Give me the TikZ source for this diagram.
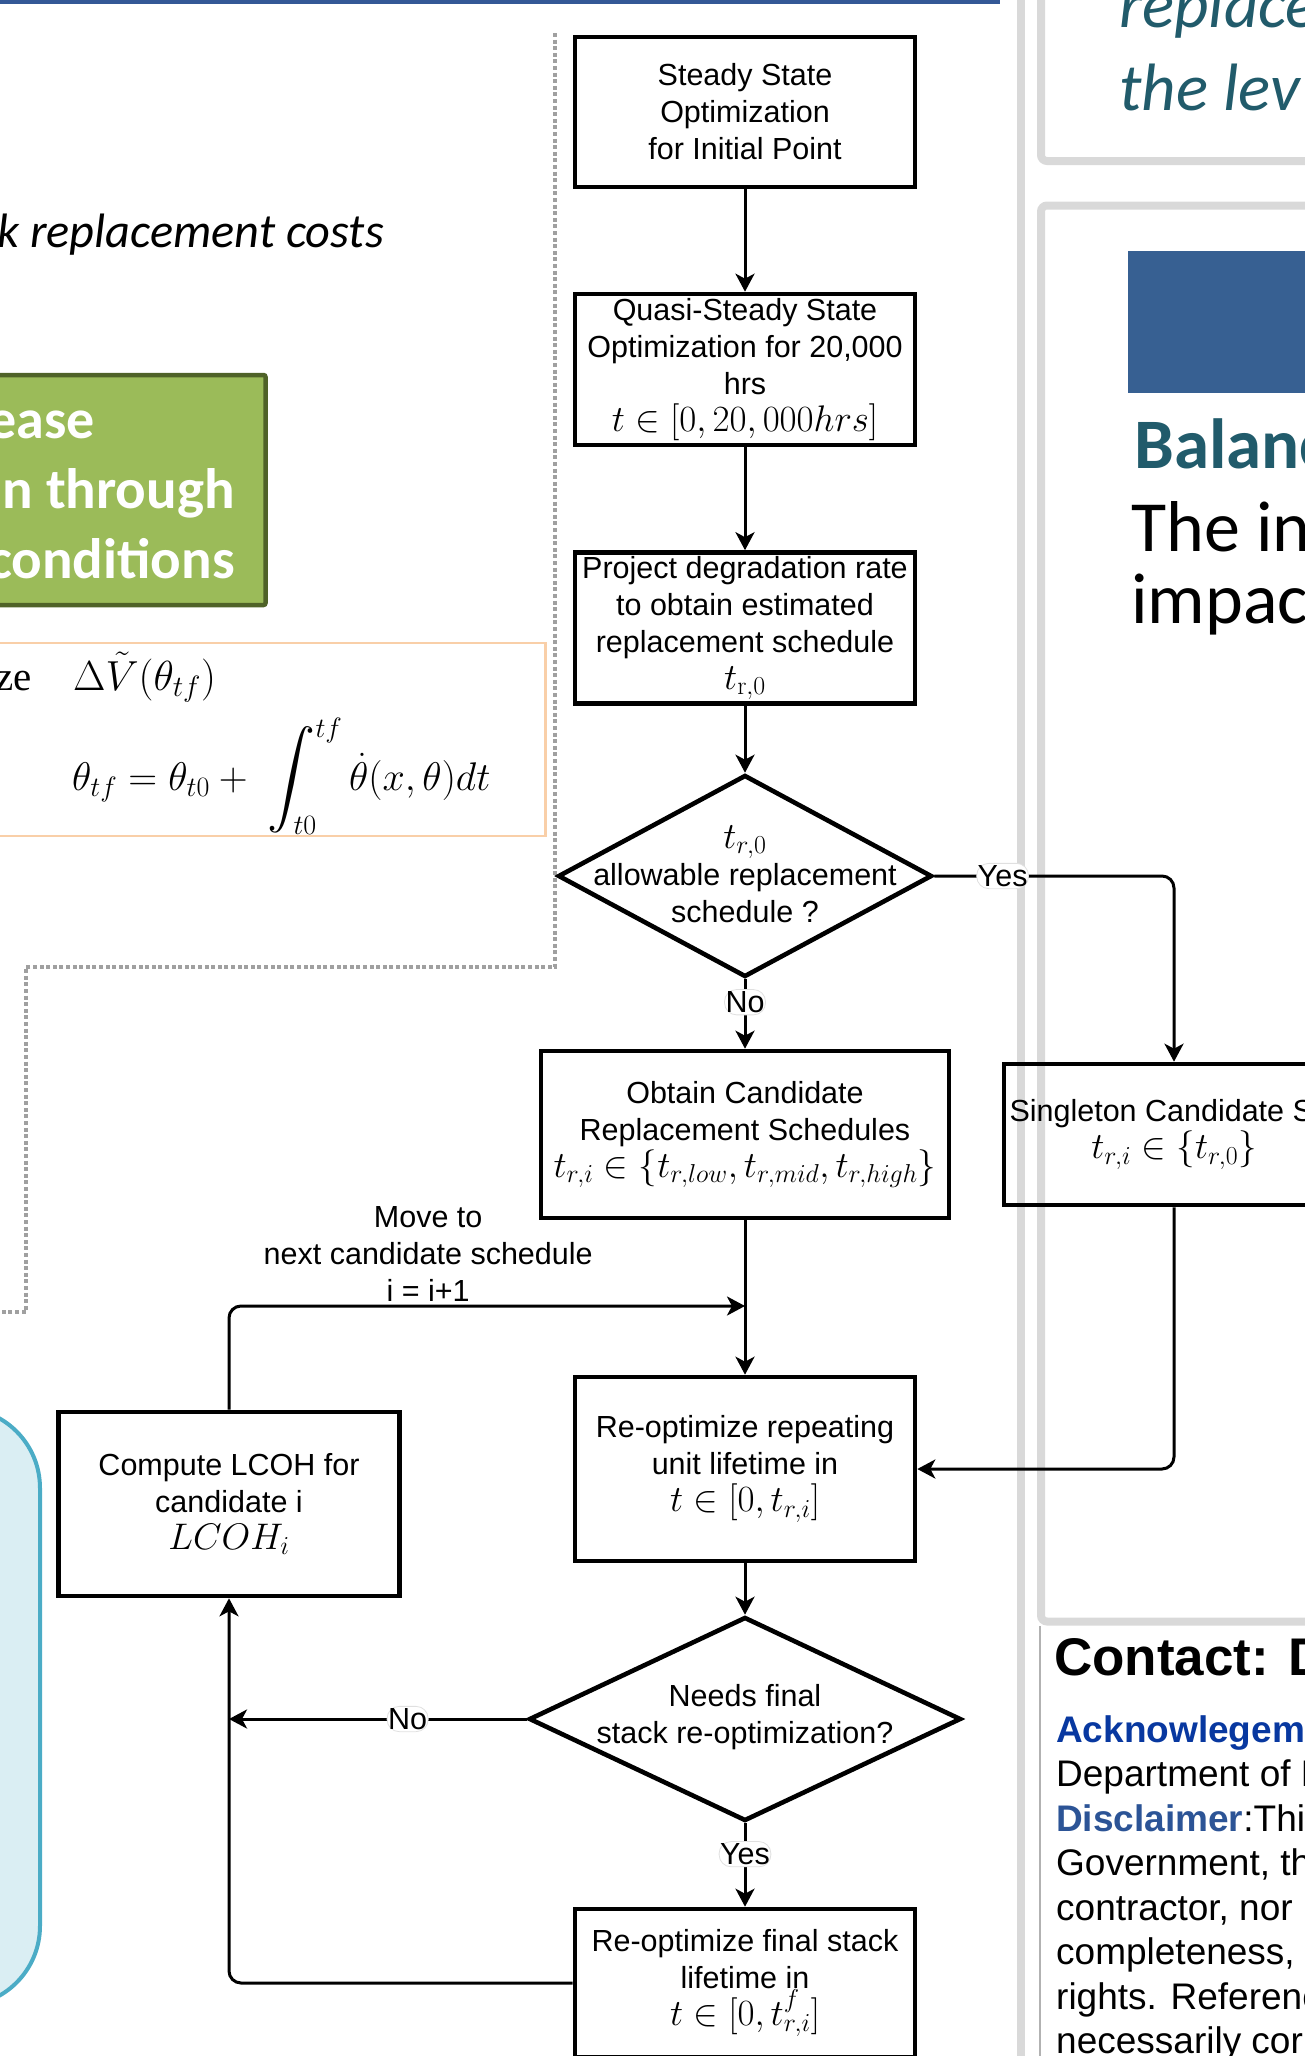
\RequirePackage{fix-cm}
\documentclass[tikz,border=0pt]{standalone}
\usepackage{graphicx}
\usepackage{fontspec}
\newfontfamily\arialf{Liberation Sans}
\newfontfamily\calibrif{Carlito}
\newfontfamily\timesf{Liberation Serif}
\usetikzlibrary{arrows.meta,shapes.geometric,calc}
\definecolor{topblue}{RGB}{52,88,150}
\definecolor{tealtxt}{HTML}{215B6B}
\definecolor{hdrblue}{HTML}{376092}
\definecolor{greenf}{HTML}{9BBB59}
\definecolor{greenb}{HTML}{4F6228}
\definecolor{orangeb}{HTML}{F9CFA8}
\definecolor{lbfill}{HTML}{DAEEF3}
\definecolor{lbdraw}{HTML}{4BACC6}
\definecolor{panelgray}{HTML}{D9D9D9}
\definecolor{dotgray}{HTML}{A0A0A0}
\definecolor{ackblue}{RGB}{8,56,160}
\definecolor{discblue}{RGB}{44,84,150}
\newcommand\mth[1]{{\fontsize{37}{37}\selectfont$#1$}}
\newcommand\bigintg{\mathop{\vcenter{\hbox{\scalebox{4.8}{$\displaystyle\int$}}}}\nolimits}
\tikzset{
  flowfont/.style={font=\arialf\fontsize{30.5}{37}\selectfont},
  flowbox/.style={draw, rectangle, line width=4.6pt, inner sep=0pt, align=center, flowfont},
  dia/.style={draw, diamond, line width=4.6pt, inner sep=0pt},
  dtext/.style={align=center, inner sep=0pt, flowfont},
  arr/.style={line width=3pt, -{Stealth[length=18pt,width=19pt,inset=5pt]}, rounded corners=12pt},
  lbl/.style={fill=white, draw=black!12, line width=0.8pt, inner xsep=1pt, inner ysep=2pt, flowfont},
  movelbl/.style={anchor=south, inner sep=3pt, align=center, flowfont},
  dotline/.style={draw=dotgray, line width=4pt, dash pattern=on 4pt off 2.6pt},
  panel/.style={draw=panelgray, line width=8pt, rounded corners=6pt},
  ctext/.style={anchor=base west, inner sep=0pt, font=\arialf\fontsize{37}{44.5}\selectfont},
}
\begin{document}
\begin{tikzpicture}[x=1pt,y=-1pt]
\useasboundingbox (0,0) rectangle (1305,2056);
\clip (0,0) rectangle (1305,2056);

% ---------- poster background, left ----------
\fill[topblue] (0,0) rectangle (1000,3.5);
\node[anchor=base east, inner sep=0pt, font=\calibrif\itshape\fontsize{48.3}{55}\selectfont] (krc) at (384,247) {k replacement costs};

\draw[fill=greenf, draw=greenb, line width=4.5pt, rounded corners=2pt] (-20,375) rectangle (265.5,605);
\node[anchor=base east, inner sep=0pt, text=white, font=\calibrif\bfseries\fontsize{56}{70}\selectfont] (g1) at (95,438) {ease};
\node[anchor=base east, inner sep=0pt, text=white, font=\calibrif\bfseries\fontsize{57}{70}\selectfont] (g2) at (235,508) {n through};
\node[anchor=base east, inner sep=0pt, text=white, font=\calibrif\bfseries\fontsize{57}{70}\selectfont] (g3) at (235,578) {conditions};

\draw[orangeb, line width=2.5pt] (-20,643) rectangle (545.5,836);
\node[anchor=base east, inner sep=0pt, font=\timesf\fontsize{41}{48}\selectfont] (ze) at (32,690) {ze};
\node[anchor=base west, inner sep=0pt, font=\fontsize{42}{48}\selectfont] (dv) at (73,690) {$\Delta\tilde{V}(\theta_{tf})$};
\node[anchor=base west, inner sep=0pt, font=\fontsize{40}{48}\selectfont] (ode) at (72,790) {$\theta_{tf}=\theta_{t0}+\;\bigintg_{\kern-22pt t0}^{tf}\dot{\theta}(x,\theta)dt$};

\draw[dotline] (555,33) -- (555,967) -- (26,967) -- (26,1312) -- (-5,1312);

\draw[fill=lbfill, draw=lbdraw, line width=4pt, rounded corners=80pt] (-300,1408) rectangle (40,2006);

% ---------- poster background, right ----------
\fill[panelgray] (1017,-5) rectangle (1025,2060);
\draw[panel] (1041,-30) -- (1041,161) -- (1340,161);
\draw[panel] (1340,205.5) -- (1041,205.5) -- (1041,1621.5) -- (1340,1621.5);
\draw[black!30, line width=1.5pt] (1040,1626) -- (1040,2070);

\node[anchor=base west, inner sep=0pt, text=tealtxt, font=\calibrif\itshape\fontsize{67}{83}\selectfont] (rp) at (1119,27) {replace};
\node[anchor=base west, inner sep=0pt, text=tealtxt, font=\calibrif\itshape\fontsize{67}{83}\selectfont] (lev) at (1119,110) {the lev};
\fill[hdrblue] (1128,251) rectangle (1320,393);
\node[anchor=base west, inner sep=0pt, text=tealtxt, font=\calibrif\bfseries\fontsize{71}{83}\selectfont] (bal) at (1134,468) {Balanc};
\node[anchor=base west, inner sep=0pt, font=\calibrif\fontsize{72}{70}\selectfont] (thein) at (1131,551) {The in};
\node[anchor=base west, inner sep=0pt, font=\calibrif\fontsize{72}{70}\selectfont] (impac) at (1131,623) {impac};

\node[anchor=base west, inner sep=0pt, font=\arialf\bfseries\fontsize{53}{60}\selectfont] (contact) at (1054,1675) {Contact: D};
\node[ctext, text=ackblue, font=\arialf\bfseries\fontsize{37}{44.5}\selectfont] (c1) at (1056,1742) {Acknowlegem};
\node[ctext] (c2) at (1056,1786.5) {Department of E};
\node[ctext] (c3) at (1056,1831) {\textcolor{discblue}{\bfseries Disclaimer}:Thi};
\node[ctext] (c4) at (1056,1875.5) {Government, th};
\node[ctext] (c5) at (1056,1920) {contractor, nor};
\node[ctext] (c6) at (1056,1964.5) {completeness,};
\node[ctext] (c7) at (1056,2009) {rights. Referenc};
\node[ctext] (c8) at (1056,2053.5) {necessarily cor};

% ---------- flowchart ----------
\node[flowbox, minimum width=340pt, minimum height=150pt] (b1) at (745,112)
  {Steady State\\Optimization\\for Initial Point};
\node[flowbox, minimum width=340pt, minimum height=151pt] (b2) at (745,369.5)
  {Quasi-Steady State\\Optimization for 20,000\\hrs\\\mth{t\in[0,20,000hrs]}};
\node[flowbox, minimum width=340pt, minimum height=151pt] (b3) at (745,628)
  {Project degradation rate\\to obtain estimated\\replacement schedule\\\mth{t_{\mathrm{r},0}}};
\node[dia, minimum width=374pt, minimum height=202pt] (d1) at (745,876) {};
\node[dtext] (d1t) at (745,874) {\mth{t_{r,0}}\\allowable replacement\\schedule ?};
\node[flowbox, minimum width=408pt, minimum height=167pt] (b4) at (745,1134.5)
  {Obtain Candidate\\Replacement Schedules\\\mth{t_{r,i}\in\{t_{r,low},t_{r,mid},t_{r,high}\}}};
\node[flowbox, minimum width=340pt, minimum height=141pt] (sg) at (1174,1134.5)
  {Singleton Candidate Set\\\mth{t_{r,i}\in\{t_{r,0}\}}};
\node[flowbox, minimum width=340pt, minimum height=184pt] (b5) at (745,1469)
  {Re-optimize repeating\\unit lifetime in\\\mth{t\in[0,t_{r,i}]}};
\node[flowbox, minimum width=341pt, minimum height=184pt] (cp) at (229,1504)
  {Compute LCOH for\\candidate i\\\mth{LCOH_i}};
\node[dia, minimum width=432pt, minimum height=204pt] (d2) at (745,1719) {};
\node[dtext] (d2t) at (745,1717) {Needs final\\stack re-optimization?};
\node[flowbox, minimum width=340pt, minimum height=148pt] (b6) at (745,1983)
  {Re-optimize final stack\\lifetime in\\\mth{t\in[0,t^{f}_{r,i}]}};

\coordinate (loopc) at (229,1306);

\draw[arr] (b1.south) -- (b2.north);
\draw[arr] (b2.south) -- (b3.north);
\draw[arr] (b3.south) -- (d1.north);
\draw[arr] (d1.east) -- node[lbl, pos=0.285] (yes1) {Yes} (d1.east -| sg.north) -- (sg.north);
\draw[arr] (d1.south) -- node[lbl, pos=0.33] (no1) {No} (b4.north);
\draw[arr] (b4.south) -- (b5.north);
\draw[arr] (sg.south) -- (sg.south |- b5.east) -- (b5.east);
\draw[arr] (b5.south) -- (d2.north);
\draw[arr] (d2.west) -- node[lbl, pos=0.4] (no2) {No} (d2.west -| cp.south);
\draw[arr] (d2.south) -- node[lbl, pos=0.37] (yes2) {Yes} (b6.north);
\draw[arr] (b6.west) -- (b6.west -| cp.south) -- (cp.south);
\draw[arr] (cp.north) -- (loopc) -- node[movelbl, pos=0.386] (mv) {Move to\\next candidate schedule\\i = i+1} (loopc -| b5.north);
\end{tikzpicture}
\end{document}
